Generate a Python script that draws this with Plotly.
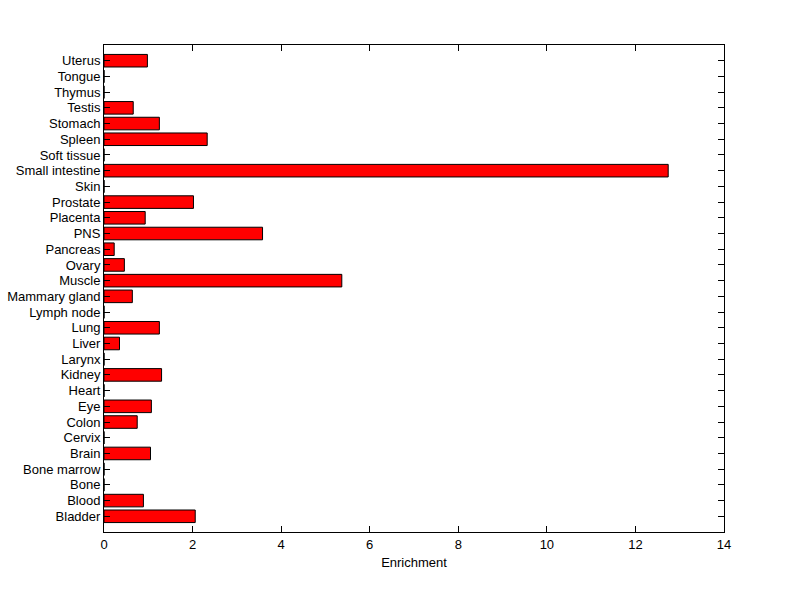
import plotly.graph_objects as go

categories = ["Bladder", "Blood", "Bone", "Bone marrow", "Brain", "Cervix", "Colon", "Eye",
              "Heart", "Kidney", "Larynx", "Liver", "Lung", "Lymph node", "Mammary gland",
              "Muscle", "Ovary", "Pancreas", "PNS", "Placenta", "Prostate", "Skin",
              "Small intestine", "Soft tissue", "Spleen", "Stomach", "Testis", "Thymus",
              "Tongue", "Uterus"]
enrichment = [2.06, 0.89, 0, 0, 1.05, 0, 0.75, 1.07,
              0, 1.30, 0, 0.35, 1.25, 0, 0.64,
              5.37, 0.46, 0.23, 3.58, 0.93, 2.02, 0,
              12.74, 0, 2.33, 1.25, 0.66, 0,
              0, 0.98]
positions = list(range(1, len(categories) + 1))
x_ticks = [0, 2, 4, 6, 8, 10, 12, 14]

fig = go.Figure(go.Bar(
    x=enrichment, y=positions, orientation="h",
    width=0.8,
    marker=dict(color="#ff0000", line=dict(color="black", width=1)),
))

font = dict(family="Liberation Sans, Arial, sans-serif", size=13, color="black")
fig.update_layout(
    width=800, height=599,
    margin=dict(l=104, r=76, t=45, b=67, autoexpand=False),
    paper_bgcolor="white", plot_bgcolor="white",
    font=font, showlegend=False, bargap=0.2,
    xaxis=dict(range=[0, 14], tickvals=x_ticks, ticks="inside", ticklen=6,
               tickcolor="black", showline=True, linecolor="black", linewidth=1,
               mirror="ticks", showgrid=False, zeroline=False, automargin=False,
               title=dict(text="Enrichment", standoff=7, font=font), tickfont=font),
    yaxis=dict(range=[0, 31], tickvals=positions, ticktext=categories,
               ticks="inside", ticklen=6, tickcolor="black", showline=True,
               linecolor="black", linewidth=1, mirror="ticks", showgrid=False,
               zeroline=False, tickfont=font, automargin=False),
)
fig.write_html("out.html", config={"displayModeBar": False},
               post_script="document.body.style.margin='0';")
